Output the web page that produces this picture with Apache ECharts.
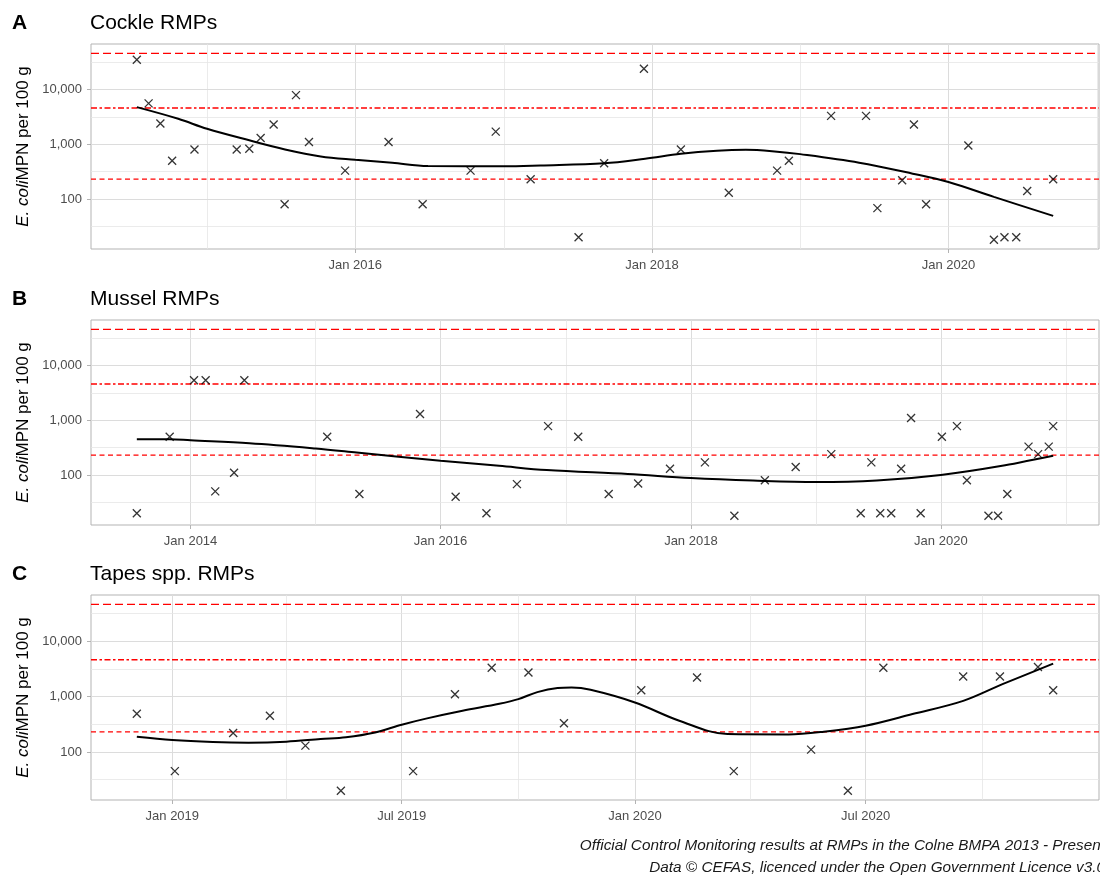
<!DOCTYPE html>
<html>
<head>
<meta charset="utf-8">
<script src="https://cdn.jsdelivr.net/npm/echarts@6/dist/echarts.min.js"></script>
<style>
html,body{margin:0;padding:0;background:#fff;}
#chart{width:1100px;height:875px;}
</style>
</head>
<body>
<div id="chart"></div>
<script>
// ---- Data ----
const limits = [230, 4600, 46000];

const cockleDates = ['2014-07-12','2014-08-10','2014-09-08','2014-10-07','2014-12-01','2015-03-15','2015-04-15','2015-05-13','2015-06-14','2015-07-11','2015-08-08','2015-09-09','2015-12-07','2016-03-23','2016-06-15','2016-10-11','2016-12-12','2017-03-08','2017-07-04','2017-09-05','2017-12-12','2018-03-13','2018-07-09','2018-11-05','2018-12-04','2019-03-18','2019-06-12','2019-07-10','2019-09-09','2019-10-08','2019-11-07','2020-02-19','2020-04-22','2020-05-18','2020-06-16','2020-07-13','2020-09-15'];
const cockleValues = [35000,5600,2400,500,800,800,830,1300,2300,80,7900,1100,330,1100,80,330,1700,230,20,450,24000,800,130,330,500,3300,3300,68,220,2300,80,950,18,20,20,140,230];
const cockleTrendDates = ['2014-07-12','2014-10-22','2015-01-01','2015-04-15','2015-07-12','2015-10-08','2016-01-01','2016-04-01','2016-06-28','2017-01-01','2017-04-01','2017-09-05','2017-12-15','2018-03-13','2018-06-10','2018-08-20','2018-10-30','2019-01-01','2019-05-26','2019-10-05','2020-01-01','2020-04-22','2020-09-15'];
const cockleTrendValues = [4770,2920,1920,1180,805,600,521,460,400,395,410,450,545,670,760,790,740,660,460,290,204,109,49];
const cockleLabelTicks = ['2016-01-01','2018-01-01','2020-01-01'];
const cockleMinorTicks = ['2015-01-01','2017-01-01','2019-01-01','2021-01-01'];

const musselDates = ['2013-07-28','2013-11-01','2014-01-11','2014-02-14','2014-03-14','2014-05-08','2014-06-07','2015-02-04','2015-05-09','2015-11-02','2016-02-14','2016-05-14','2016-08-11','2016-11-10','2017-02-06','2017-05-06','2017-07-31','2017-11-01','2018-02-11','2018-05-08','2018-08-05','2018-11-03','2019-02-15','2019-05-12','2019-06-12','2019-07-08','2019-08-09','2019-09-07','2019-10-06','2019-11-03','2020-01-04','2020-02-17','2020-03-17','2020-05-19','2020-06-16','2020-07-13','2020-09-13','2020-10-11','2020-11-11','2020-11-24'];
const musselValues = [20,500,5400,5400,50,110,5400,500,45,1300,40,20,68,780,500,45,70,130,170,18,80,140,240,20,170,20,20,130,1100,20,500,780,80,18,18,45,330,240,330,780];
const musselTrendDates = ['2013-07-28','2013-11-01','2014-01-01','2014-06-22','2015-01-01','2015-05-01','2016-01-01','2016-06-20','2016-11-06','2017-07-01','2018-01-01','2018-07-01','2019-01-01','2019-06-28','2020-01-01','2020-06-28','2020-11-24'];
const musselTrendValues = [450,450,430,380,305,258,182,147,123,104,88,79,74,79,100,147,225];
const musselLabelTicks = ['2014-01-01','2016-01-01','2018-01-01','2020-01-01'];
const musselMinorTicks = ['2015-01-01','2017-01-01','2019-01-01','2021-01-01'];

const tapesDates = ['2018-12-04','2019-01-03','2019-02-18','2019-03-19','2019-04-16','2019-05-14','2019-07-10','2019-08-12','2019-09-10','2019-10-09','2019-11-06','2020-01-06','2020-02-19','2020-03-19','2020-05-19','2020-06-17','2020-07-15','2020-09-16','2020-10-15','2020-11-14','2020-11-26'];
const tapesValues = [490,45,220,450,130,20,45,1100,3300,2700,330,1300,2200,45,110,20,3300,2300,2300,3400,1300];
const tapesTrendDates = ['2018-12-04','2019-01-01','2019-02-02','2019-03-02','2019-04-01','2019-04-28','2019-05-18','2019-06-10','2019-07-01','2019-07-21','2019-08-18','2019-09-16','2019-10-01','2019-10-16','2019-11-01','2019-11-12','2019-11-27','2020-01-01','2020-02-05','2020-03-14','2020-05-01','2020-05-29','2020-07-01','2020-08-07','2020-09-16','2020-10-17','2020-11-26'];
const tapesTrendValues = [188,164,151,147,153,171,184,225,310,403,553,738,895,1200,1420,1450,1320,780,366,210,207,232,297,482,835,1670,3920];
const tapesLabelTicks = ['2019-01-01','2019-07-01','2020-01-01','2020-07-01'];
const tapesMinorTicks = ['2019-04-01','2019-10-01','2020-04-01','2020-10-01'];

const panelTags = ['A','B','C'];
const panelTitles = ['Cockle RMPs','Mussel RMPs','Tapes spp. RMPs'];
const captionLines = ['Official Control Monitoring results at RMPs in the Colne BMPA 2013 - Present','Data \u00a9 CEFAS, licenced under the Open Government Licence v3.0'];

// ---- Build ----
const MONTHS = ['Jan','Feb','Mar','Apr','May','Jun','Jul','Aug','Sep','Oct','Nov','Dec'];
function toTime(s){ const p = s.split('-').map(Number); return new Date(p[0], p[1]-1, p[2]).getTime(); }

const panels = [
  {dates: cockleDates, values: cockleValues, tDates: cockleTrendDates, tValues: cockleTrendValues, labels: cockleLabelTicks, minor: cockleMinorTicks},
  {dates: musselDates, values: musselValues, tDates: musselTrendDates, tValues: musselTrendValues, labels: musselLabelTicks, minor: musselMinorTicks},
  {dates: tapesDates, values: tapesValues, tDates: tapesTrendDates, tValues: tapesTrendValues, labels: tapesLabelTicks, minor: tapesMinorTicks}
];
const gridTops = [44, 320, 595];
const gridH = 205;

const grids = [], xAxes = [], yAxes = [], series = [], graphics = [];
const labelColor = '#4D4D4D';
const fontFam = '"Liberation Sans", Arial, sans-serif';
const limStyles = [[5,3.5],[6,2.5,2.5,2.5],[8,4]];

panels.forEach((p, i) => {
  grids.push({left: 91, right: 1, top: gridTops[i], height: gridH, show: true, borderColor: '#B3B3B3', borderWidth: 1, backgroundColor: '#fff'});
  const times = p.dates.map(toTime);
  const t0 = Math.min(...times), t1 = Math.max(...times);
  const tp = 0.05 * (t1 - t0);
  const xMin = t0 - tp, xMax = t1 + tp;
  const lo = Math.log10(Math.min(...p.values, ...limits));
  const hi = Math.log10(Math.max(...p.values, ...limits));
  const lp = 0.05 * (hi - lo);
  const labelTimes = p.labels.map(toTime);
  xAxes.push({
    type: 'value', gridIndex: i, min: xMin, max: xMax, scale: true,
    axisLine: {show: false},
    axisTick: {show: true, customValues: labelTimes, length: 4, lineStyle: {color: '#B3B3B3'}},
    splitLine: {show: false},
    axisLabel: {customValues: labelTimes, color: labelColor, fontSize: 13, fontFamily: fontFam, margin: 10,
      formatter: v => { const d = new Date(v); return MONTHS[d.getMonth()] + ' ' + d.getFullYear(); }}
  });
  yAxes.push({
    type: 'log', logBase: 10, gridIndex: i, min: Math.pow(10, lo - lp), max: Math.pow(10, hi + lp),
    axisLine: {show: false},
    axisTick: {show: true, length: 4, lineStyle: {color: '#B3B3B3'}},
    splitLine: {show: false},
    minorTick: {show: false}, minorSplitLine: {show: false},
    axisLabel: {color: labelColor, fontSize: 13, fontFamily: fontFam, margin: 9, showMinLabel: false, showMaxLabel: false,
      formatter: v => Math.round(v).toLocaleString('en-US')},
    name: '{i|E. coli}MPN per 100 g', nameLocation: 'middle', nameGap: 58,
    nameTextStyle: {fontSize: 17, color: '#000', fontFamily: fontFam,
      rich: {i: {fontStyle: 'italic', fontSize: 17, color: '#000', fontFamily: fontFam}}}
  });
  // gridlines
  const gl = [];
  const major = {color: '#DCDCDC', width: 1, type: 'solid'};
  const minor = {color: '#E6E6E6', width: 0.8, type: 'solid'};
  p.labels.forEach(d => gl.push({xAxis: toTime(d), lineStyle: major}));
  p.minor.forEach(d => gl.push({xAxis: toTime(d), lineStyle: minor}));
  [100, 1000, 10000].forEach(v => gl.push({yAxis: v, lineStyle: major}));
  [Math.sqrt(10)*10, Math.sqrt(10)*100, Math.sqrt(10)*1000, Math.sqrt(10)*10000].forEach(v => gl.push({yAxis: v, lineStyle: minor}));
  series.push({
    type: 'line', xAxisIndex: i, yAxisIndex: i, data: [], silent: true, z: 1,
    markLine: {silent: true, symbol: ['none','none'], label: {show: false}, animation: false, z: 1, data: gl}
  });
  // limit lines (as line series across the full x range)
  limits.forEach((v, k) => {
    series.push({
      type: 'line', xAxisIndex: i, yAxisIndex: i, z: 2, silent: true, showSymbol: false, symbol: 'none',
      lineStyle: {color: '#FF0000', width: 1.3, type: limStyles[k].slice()},
      data: [[xMin, v], [xMax, v]]
    });
  });
  // trend
  series.push({
    type: 'line', xAxisIndex: i, yAxisIndex: i, z: 3, smooth: 0.35, showSymbol: false, silent: true,
    lineStyle: {color: '#000', width: 2},
    data: p.tDates.map((d, k) => [toTime(d), p.tValues[k]])
  });
  // points
  series.push({
    type: 'scatter', xAxisIndex: i, yAxisIndex: i, z: 4, silent: true,
    symbol: 'path://M0,0L10,10M10,0L0,10', symbolSize: 8,
    itemStyle: {color: 'rgba(0,0,0,0)', borderColor: '#000', borderWidth: 1.3},
    data: p.dates.map((d, k) => [toTime(d), p.values[k]])
  });
  graphics.push({type: 'text', left: 12, top: gridTops[i] - 31, style: {text: panelTags[i], fontSize: 21, fontWeight: 'bold', fill: '#000', fontFamily: fontFam}});
  graphics.push({type: 'text', left: 90, top: gridTops[i] - 31, style: {text: panelTitles[i], fontSize: 21, fill: '#000', fontFamily: fontFam}});
});

graphics.push({type: 'text', x: 1105, y: 846, style: {text: captionLines[0], fontSize: 15.3, fontStyle: 'italic', fill: '#1A1A1A', fontFamily: fontFam, align: 'right', verticalAlign: 'middle'}});
graphics.push({type: 'text', x: 1105, y: 868, style: {text: captionLines[1], fontSize: 15.3, fontStyle: 'italic', fill: '#1A1A1A', fontFamily: fontFam, align: 'right', verticalAlign: 'middle'}});

const chart = echarts.init(document.getElementById('chart'), null, {renderer: 'canvas'});
chart.setOption({
  animation: false,
  backgroundColor: '#fff',
  grid: grids, xAxis: xAxes, yAxis: yAxes, series: series, graphic: graphics
});
</script>
</body>
</html>
